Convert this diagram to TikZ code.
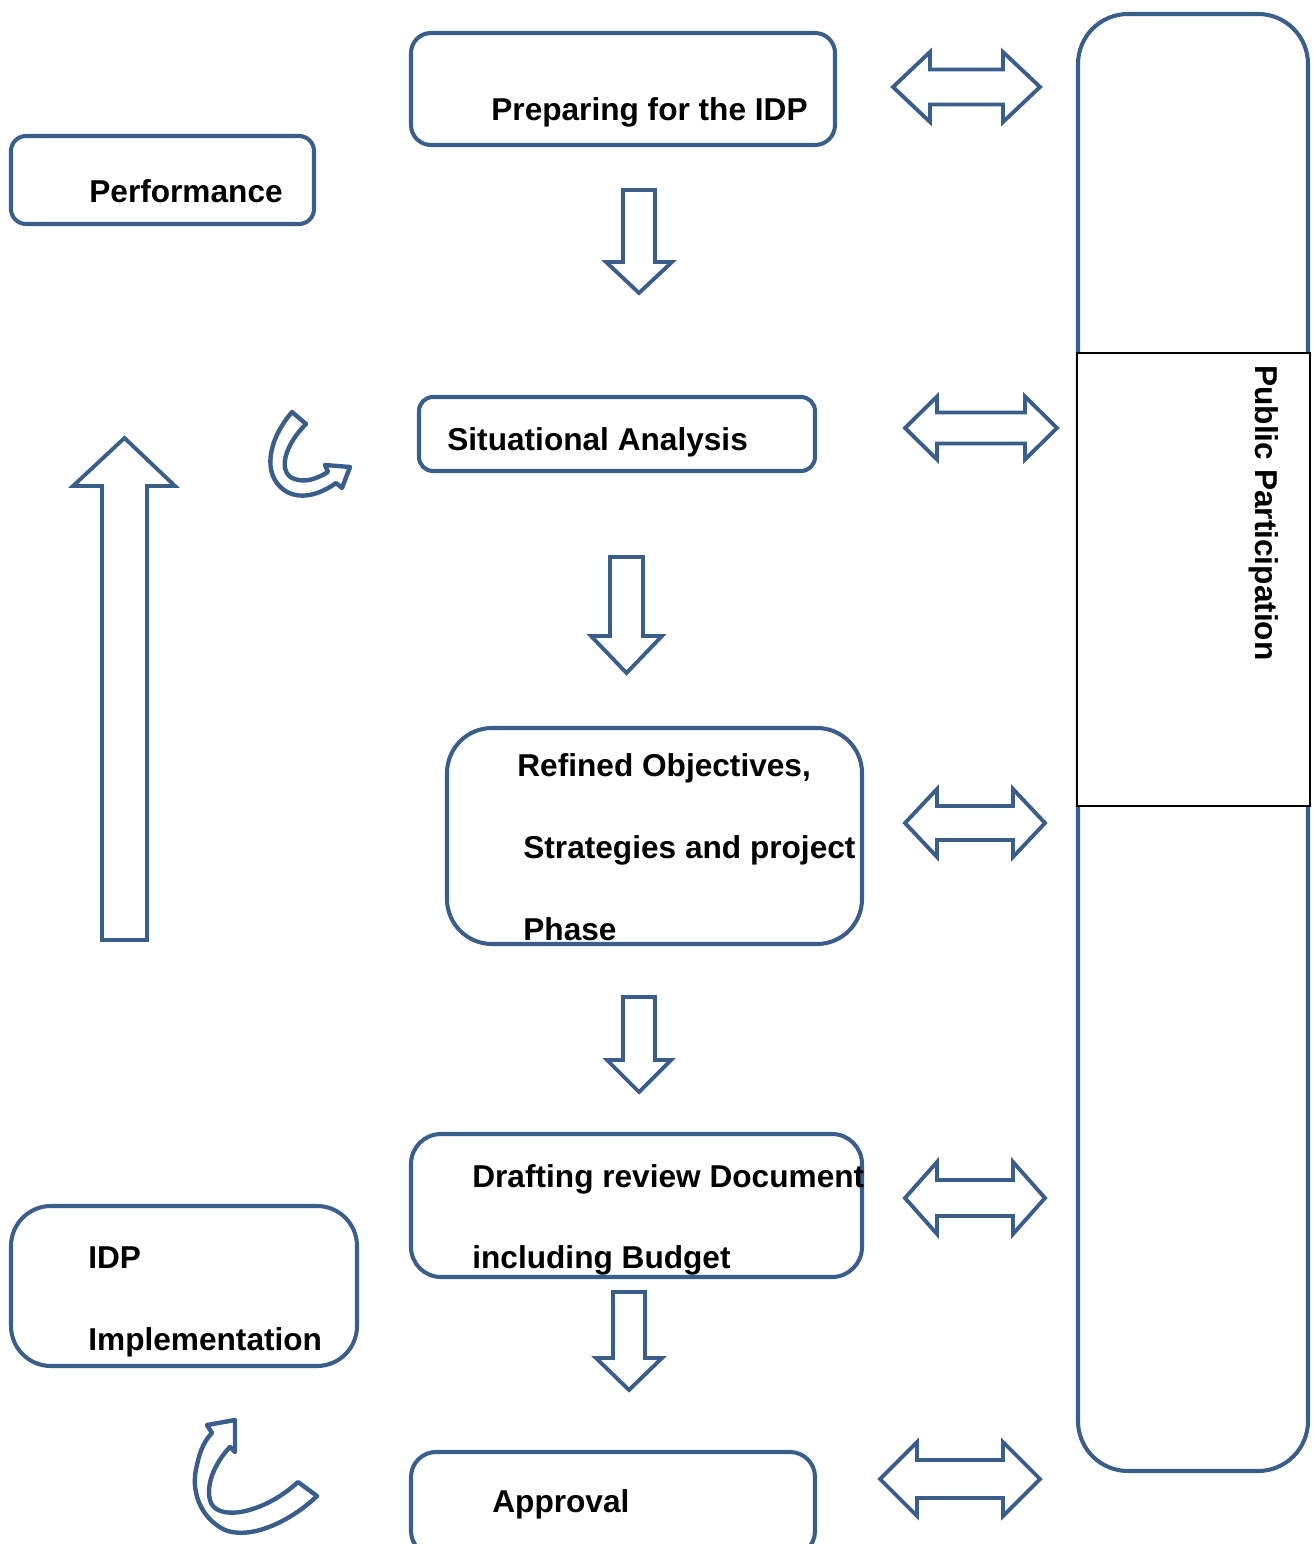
\documentclass[tikz,border=0pt]{standalone}
\usepackage{fontspec}
\setmainfont{Liberation Sans}
\usepackage{xcolor}
\usepackage{tikz}
\definecolor{idpblue}{RGB}{58,94,140}
\tikzset{
  stagebox/.style={draw=idpblue, line width=2.3pt, fill=white},
  blockarrow/.style={draw=idpblue, line width=2.2pt, line join=miter, fill=white},
  stagetext/.style={font=\fontsize{18}{22}\selectfont\bfseries, anchor=base west, inner sep=0pt}
}

\begin{document}
\begin{tikzpicture}[x=0.02cm, y=-0.02cm]
\useasboundingbox (0,0) rectangle (1312,1544);

% public participation column
\draw[stagebox, rounded corners=1cm] (1078,14) rectangle (1308,1471);
\draw[black, line width=1pt, fill=white] (1077,353) rectangle (1310,806);
\node[stagetext, rotate=-90] (public) at (1255,365) {Public Participation};

% stage boxes
\draw[stagebox, rounded corners=0.4cm] (411,33) rectangle (835,145);
\node[stagetext] (prep) at (491,121) {Preparing for the IDP};

\draw[stagebox, rounded corners=0.3cm] (11,136) rectangle (314,224);
\node[stagetext] (perf) at (89,203) {Performance};

\draw[stagebox, rounded corners=0.28cm] (419,397) rectangle (815,471);
\node[stagetext] (situ) at (447,450) {Situational Analysis};

\draw[stagebox, rounded corners=0.9cm] (447,728) rectangle (862,944);
\node[stagetext] (refA) at (517,776) {Refined Objectives,};
\node[stagetext] (refB) at (523,858) {Strategies and project};
\node[stagetext] (refC) at (523,940) {Phase};

\draw[stagebox, rounded corners=0.6cm] (411,1134) rectangle (862,1277);
\node[stagetext] (draftA) at (472,1187) {Drafting review Document};
\node[stagetext] (draftB) at (472,1268) {including Budget};

\draw[stagebox, rounded corners=0.8cm] (11,1206) rectangle (357,1366);
\node[stagetext] (implA) at (88,1268) {IDP};
\node[stagetext] (implB) at (88,1350) {Implementation};

\draw[stagebox, rounded corners=0.5cm] (411,1452) rectangle (815,1556);
\node[stagetext] (appr) at (492,1512) {Approval};

% two-way arrows to public participation
\foreach \xa/\xb/\yc/\hl/\hh/\sh in {893/1040/87/37/35/17.5, 905/1057/428/32/31.5/15.5,
    905/1045/823/32/34/17, 905/1045/1198/32/36/18, 880/1040/1479/37/37/19}
  \draw[blockarrow] (\xa,\yc) -- (\xa+\hl,\yc-\hh) -- (\xa+\hl,\yc-\sh) -- (\xb-\hl,\yc-\sh)
    -- (\xb-\hl,\yc-\hh) -- (\xb,\yc) -- (\xb-\hl,\yc+\hh) -- (\xb-\hl,\yc+\sh)
    -- (\xa+\hl,\yc+\sh) -- (\xa+\hl,\yc+\hh) -- cycle;

% down arrows between stages
\foreach \xc/\yt/\yb/\yp/\sh/\hh in {639/190/262/293/16/33, 626.5/557/636/673/16.5/35.5,
    639/997/1060/1092/16/32, 629/1292/1358/1390/16/33}
  \draw[blockarrow] (\xc-\sh,\yt) -- (\xc+\sh,\yt) -- (\xc+\sh,\yb) -- (\xc+\hh,\yb)
    -- (\xc,\yp) -- (\xc-\hh,\yb) -- (\xc-\sh,\yb) -- cycle;

% up arrow on the left
\draw[blockarrow] (102,940) -- (147,940) -- (147,486) -- (175,486) -- (124.5,438)
  -- (73,486) -- (102,486) -- cycle;

% curved arrows
\draw[blockarrow, line width=2.5pt, line join=round] (292,412) -- (306,424) .. controls (285,445) and (278,470) .. (292,478)
  .. controls (305,484) and (318,478) .. (328,472) -- (325,465) -- (350,467) -- (342,488) -- (336,483)
  .. controls (318,496) and (298,500) .. (284,490) .. controls (262,474) and (268,440) .. (292,412) -- cycle;
\draw[blockarrow, line width=2.5pt, line join=round] (298,1482) -- (317,1496) .. controls (290,1522) and (250,1540) .. (225,1530)
  .. controls (200,1518) and (190,1490) .. (197,1465) .. controls (200,1450) and (205,1440) .. (212,1433)
  -- (207,1425) -- (235,1420) -- (235,1452) -- (230,1447) .. controls (220,1457) and (205,1480) .. (210,1500)
  .. controls (215,1522) and (262,1515) .. (298,1482) -- cycle;

\end{tikzpicture}
\end{document}
